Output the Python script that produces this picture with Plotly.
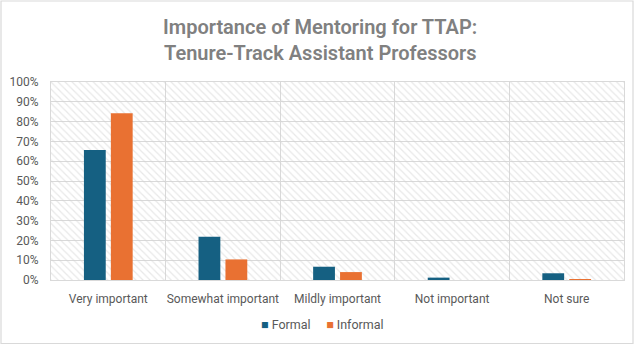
import plotly.graph_objects as go

categories = ["Very important", "Somewhat important", "Mildly important", "Not important", "Not sure"]
formal = [0.657, 0.219, 0.067, 0.012, 0.034]
informal = [0.842, 0.104, 0.040, 0.0, 0.005]
y_ticks = [i / 10 for i in range(11)]
y_tick_labels = [f"{i * 10}%" for i in range(11)]
title_lines = ["Importance of Mentoring for TTAP:", "Tenure-Track Assistant Professors"]
series_names = ["Formal", "Informal"]

BLUE = "#156082"
ORANGE = "#E97132"
GRID = "#D9D9D9"
TXT = "#595959"
FONT = "Roboto"

W, H = 640, 345
ML, MR, MT, MB = 51, 16, 82, 65
PW, PH = W - ML - MR, H - MT - MB

def py(pix_from_top):
    return 1 + (MT - pix_from_top) / PH

def px(pix_from_left):
    return (pix_from_left - ML) / PW

fig = go.Figure()

# hatched plot-area background (base subplot, drawn below the overlaid data subplot)
fig.add_trace(go.Bar(
    x=[0.5], y=[1.0], width=[1.0], xaxis="x", yaxis="y",
    marker=dict(color="rgba(255,255,255,0)", line=dict(width=0),
                pattern=dict(shape="\\", fgcolor="#D2D2D2", bgcolor="rgba(255,255,255,0)",
                             size=5, solidity=0.25, fillmode="overlay")),
    showlegend=False, hoverinfo="skip",
))

fig.add_trace(go.Bar(name=series_names[0], x=categories, y=formal, xaxis="x2", yaxis="y",
                     marker_color=BLUE, marker_line_width=0, showlegend=False))
fig.add_trace(go.Bar(name=series_names[1], x=categories, y=informal, xaxis="x2", yaxis="y",
                     marker_color=ORANGE, marker_line_width=0, showlegend=False))

annotations = []
for i, line in enumerate(title_lines):
    annotations.append(dict(
        text=line, xref="paper", yref="paper", x=px(W / 2), y=py(27 + i * 25.5),
        xanchor="center", yanchor="middle", showarrow=False,
        font=dict(family=FONT, size=20, color="#808080", weight=600),
    ))

# compact legend
legend_text = (f'<span style="color:{BLUE}">■</span> {series_names[0]}'
               f'&nbsp;&nbsp;&nbsp;&nbsp;&nbsp;<span style="color:{ORANGE}">■</span> {series_names[1]}')
annotations.append(dict(
    text=legend_text, xref="paper", yref="paper", x=px(322), y=py(324),
    xanchor="center", yanchor="middle", showarrow=False,
    font=dict(family=FONT, size=12.5, color=TXT),
))

fig.update_layout(
    width=W, height=H,
    margin=dict(l=ML, r=MR, t=MT, b=MB),
    paper_bgcolor="white", plot_bgcolor="white",
    barmode="group", bargap=0.53, bargroupgap=0.19,
    showlegend=False,
    font=dict(family=FONT, size=12, color=TXT),
    xaxis=dict(range=[0, 1], visible=False, fixedrange=True, showgrid=False, zeroline=False),
    xaxis2=dict(
        overlaying="x", type="category", tickson="boundaries", showgrid=True,
        gridcolor=GRID, gridwidth=1, ticks="", tickangle=0, automargin=False,
        showline=True, linecolor=GRID, mirror=True, side="bottom",
        tickfont=dict(family=FONT, size=12, color=TXT), ticklabelstandoff=8,
        fixedrange=True,
    ),
    yaxis=dict(
        range=[0, 1], tickvals=y_ticks, ticktext=y_tick_labels, automargin=False,
        showgrid=True, gridcolor=GRID, gridwidth=1, zeroline=False,
        showline=True, linecolor=GRID, mirror=True, ticks="",
        tickfont=dict(family=FONT, size=12, color=TXT), ticklabelstandoff=9,
        fixedrange=True,
    ),
    annotations=annotations,
    shapes=[dict(type="rect", xref="paper", yref="paper",
                 x0=px(1), x1=px(633), y0=py(343.5), y1=py(1),
                 line=dict(color="#D9D9D9", width=1.2), layer="below")],
)

fig.write_html("out.html")
